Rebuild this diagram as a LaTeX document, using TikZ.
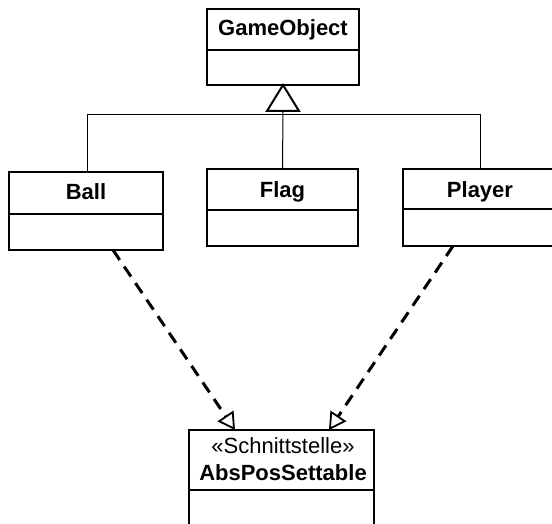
\documentclass[tikz,border=0pt]{standalone}
\usepackage{fontspec}
\setmainfont{Liberation Sans}
\usetikzlibrary{arrows.meta}
\begin{document}
\begin{tikzpicture}[x=1pt,y=-1pt,
  classbox/.style={draw=black, line width=2pt, anchor=north west, inner sep=0pt, outer sep=0pt},
  classname/.style={anchor=base, inner sep=0pt, font=\fontsize{22}{26}\selectfont\bfseries},
  stereo/.style={anchor=base, inner sep=0pt, font=\fontsize{22}{26}\selectfont},
  divider/.style={line width=2pt},
  inherit/.style={line width=1pt},
  genhead/.style={line width=2pt, fill=white, line join=miter},
  realize/.style={line width=3pt, dash pattern=on 12pt off 8pt,
    -{Triangle[open, length=17pt, width=19pt, line width=1.8pt]}}
]
\clip (0,0) rectangle (552,524);

% class boxes
\node[classbox, minimum width=152pt, minimum height=76pt] (go) at (207,9) {};
\node[classbox, minimum width=154pt, minimum height=78pt] (ball) at (9,172) {};
\node[classbox, minimum width=151pt, minimum height=77pt] (flag) at (207,169) {};
\node[classbox, minimum width=154pt, minimum height=77pt] (player) at (403,169) {};
\node[classbox, minimum width=185pt, minimum height=110pt] (aps) at (189,430) {};

% compartment dividers
\draw[divider] (go.west |- 0,50) -- (go.east |- 0,50);
\draw[divider] (ball.west |- 0,214) -- (ball.east |- 0,214);
\draw[divider] (flag.west |- 0,210) -- (flag.east |- 0,210);
\draw[divider] (player.west |- 0,209) -- (player.east |- 0,209);
\draw[divider] (aps.west |- 0,490) -- (aps.east |- 0,490);

% class names
\node[classname] (gotitle) at (go.north |- 0,36) {GameObject};
\node[classname] (balltitle) at (ball.north |- 0,200) {Ball};
\node[classname] (flagtitle) at (flag.north |- 0,197) {Flag};
\node[classname] (playertitle) at (player.north |- 0,197.5) {Player};
\node[stereo] (apsstereo) at ([xshift=1.5pt]aps.north |- 0,453) {«Schnittstelle»};
\node[classname] (apstitle) at ([xshift=1.5pt]aps.north |- 0,480) {AbsPosSettable};

% generalisation tree
\coordinate (tribase) at ([yshift=-26pt]go.south);
\coordinate (bus) at (0,115);
\draw[inherit] (tribase) -- (flag.north);
\draw[inherit] ([xshift=1pt]ball.north) -- ([xshift=1pt]ball.north |- bus)
  -- (player.north |- bus) -- (player.north);
\draw[genhead] (go.south) -- ([xshift=-16pt]tribase) -- ([xshift=16pt]tribase) -- cycle;

% realisations of the interface
\draw[realize] ([xshift=27pt]ball.south) -- ([xshift=-46.5pt]aps.north);
\draw[realize] ([xshift=-27pt]player.south) -- ([xshift=47.5pt]aps.north);
\end{tikzpicture}
\end{document}
